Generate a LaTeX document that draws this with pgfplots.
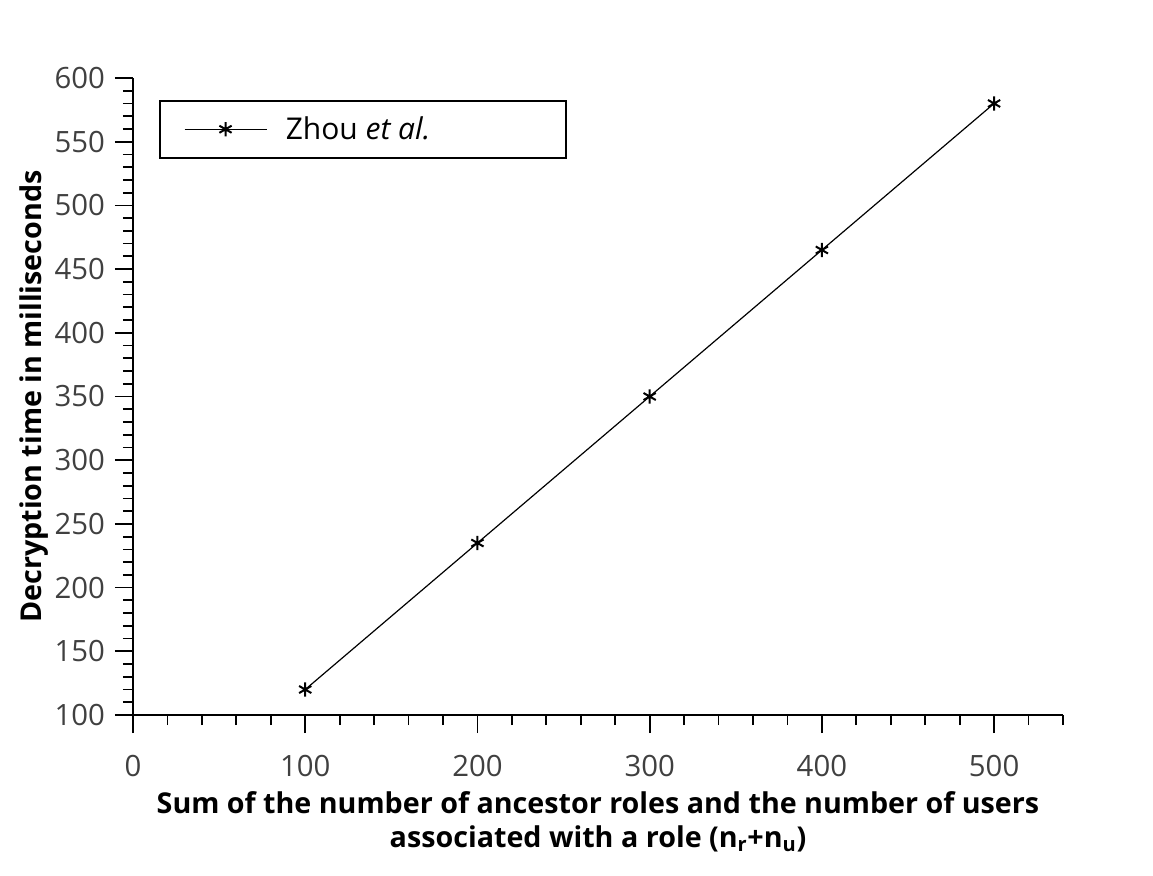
\documentclass[border=0pt]{standalone}
\usepackage{fontspec}
\setmainfont{Open Sans}
\usepackage{pgfplots}
\pgfplotsset{compat=1.18}
\definecolor{ticklab}{HTML}{404040}
\begin{document}
\begin{tikzpicture}
\path[use as bounding box] (-99.75pt,-120pt) rectangle (765pt,536.25pt);
\begin{axis}[
    at={(0pt,0pt)}, anchor=south west,
    scale only axis,
    width=697.5pt, height=477.75pt,
    xmin=0, xmax=540, ymin=100, ymax=600,
    axis lines*=left,
    axis line style={line width=1.3pt},
    xtick={0,100,...,500},
    ytick={100,150,...,600},
    minor xtick={20,40,...,540},
    minor ytick={110,120,...,590},
    tick align=outside,
    major tick length=13.5pt,
    minor tick length=7.5pt,
    every tick/.style={line width=1.3pt, black},
    /pgf/number format/assume math mode=true,
    ticklabel style={font=\fontsize{22}{26}\selectfont, text=ticklab},
    xticklabel style={yshift=-13pt},
    yticklabel style={xshift=-4pt},
    xlabel={Sum of the number of ancestor roles and the number of users\\associated with a role (n\textsubscript{r}+n\textsubscript{u})},
    xlabel style={align=center, font=\bfseries\fontsize{21.5}{26}\selectfont, yshift=-4pt},
    ylabel={Decryption time in milliseconds},
    ylabel style={font=\bfseries\fontsize{21.5}{26}\selectfont, yshift=-2pt},
    legend style={at={(0.028,0.9655)}, anchor=north west, draw=black,
        line width=1.3pt, inner xsep=18pt, inner ysep=10pt,
        font=\fontsize{22.5}{26}\selectfont,
        /tikz/every odd column/.append style={column sep=12pt}},
    legend cell align=left,
    legend image code/.code={
        \draw[mark repeat=2, mark phase=2, #1]
        plot coordinates {(0pt,0pt) (30.75pt,0pt) (61.5pt,0pt)};
    },
]
\addplot[black, line width=0.9pt, mark=asterisk, mark size=5.3pt,
    mark options={line width=1.5pt}] coordinates {
    (100,120)
    (200,235)
    (300,350)
    (400,465)
    (500,580)
};
\addlegendentry{\makebox[190pt][l]{Zhou \textit{et al.}}}
\end{axis}
\end{tikzpicture}
\end{document}
